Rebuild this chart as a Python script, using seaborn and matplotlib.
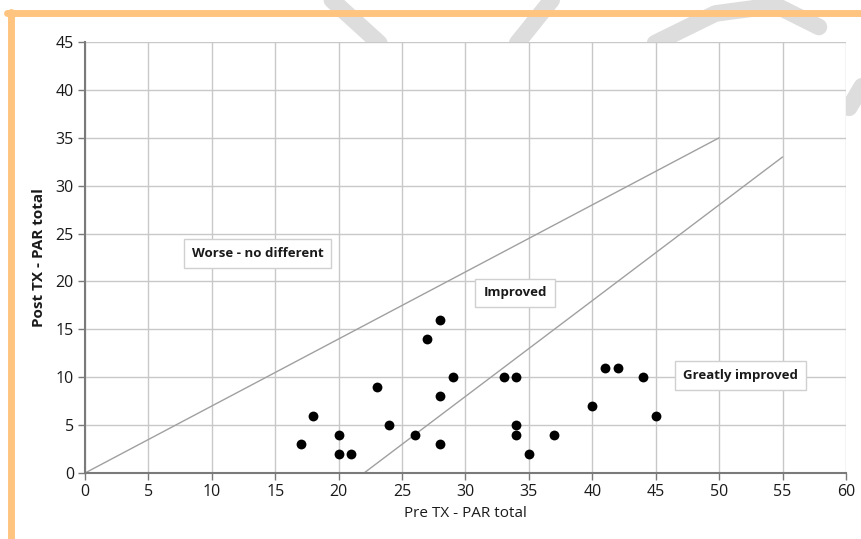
import matplotlib
matplotlib.use('Agg')
import matplotlib.pyplot as plt
import seaborn as sns
import pandas as pd

# Pre / post treatment PAR totals
pre_tx = [17, 18, 20, 20, 21, 23, 24, 26, 27, 28, 28, 28, 29, 33, 34, 34, 34, 35, 37, 40, 41, 42, 44, 45]
post_tx = [3, 6, 4, 2, 2, 9, 5, 4, 14, 16, 8, 3, 10, 10, 10, 5, 4, 2, 4, 7, 11, 11, 10, 6]

# boundary lines between the zones
worse_x = [0, 50]
worse_y = [0, 35]
great_x = [22, 55]
great_y = [0, 33]

zone_labels = ['Worse - no different', 'Improved', 'Greatly improved']
zone_x = [13.6, 33.9, 51.7]
zone_y = [22.9, 18.8, 10.2]

df = pd.DataFrame({'pre': pre_tx, 'post': post_tx})

sns.set_style('white')
plt.rcParams['font.family'] = ['Open Sans', 'DejaVu Sans']

fig = plt.figure(figsize=(8.62, 5.39), dpi=100)

# faint watermark strokes behind the chart
for xs, ys in [([0.385, 0.44], [1.0, 0.92]),
               ([0.60, 0.64], [0.92, 1.0]),
               ([0.76, 0.83, 0.90, 0.95], [0.92, 0.975, 0.99, 0.95]),
               ([0.985, 1.0], [0.80, 0.84])]:
    fig.add_artist(plt.Line2D(xs, ys, transform=fig.transFigure, color='#dddddd',
                              lw=12, solid_capstyle='round', zorder=0))

# orange frame on top and left
fig.add_artist(plt.Line2D([0.0085, 1.0], [0.975, 0.975], transform=fig.transFigure,
                          color='#ffc47f', lw=5, zorder=1))
fig.add_artist(plt.Line2D([0.0125, 0.0125], [0.978, 0.0], transform=fig.transFigure,
                          color='#ffc47f', lw=5, zorder=1))

ax = fig.add_axes([0.0986, 0.1224, 0.8828, 0.7996])
ax.set_facecolor('white')

ax.plot(worse_x, worse_y, color='#a0a0a0', lw=1, zorder=2)
ax.plot(great_x, great_y, color='#a0a0a0', lw=1, zorder=2)

sns.scatterplot(data=df, x='pre', y='post', ax=ax, color='black', s=50,
                edgecolor='black', linewidth=0, zorder=3, clip_on=False)

for lab, tx, ty in zip(zone_labels, zone_x, zone_y):
    ax.text(tx, ty, lab, ha='center', va='center', fontsize=9.5, fontweight='bold',
            color='#1a1a1a', zorder=4,
            bbox=dict(boxstyle='square,pad=0.6', fc='white', ec='#d0d0d0', lw=1))

ax.set_xlim(0, 60)
ax.set_ylim(0, 45)
ax.set_xticks(range(0, 61, 5))
ax.set_yticks(range(0, 46, 5))
ax.grid(True, color='#c8c8c8', lw=1)
ax.set_axisbelow(True)

for side in ['top', 'right']:
    ax.spines[side].set_visible(False)
for side in ['left', 'bottom']:
    ax.spines[side].set_color('#7a7a7a')
    ax.spines[side].set_linewidth(1.5)

ax.tick_params(axis='both', direction='out', length=5, width=1, color='#7a7a7a',
               labelsize=11.5, labelcolor='#1a1a1a', pad=3, bottom=True, left=True)

ax.set_xlabel('Pre TX - PAR total', fontsize=11, color='#1a1a1a', labelpad=4)
ax.set_ylabel('Post TX - PAR total', fontsize=11, fontweight='bold', color='#1a1a1a', labelpad=7)

fig.savefig('out.png', dpi=100, facecolor='white')
